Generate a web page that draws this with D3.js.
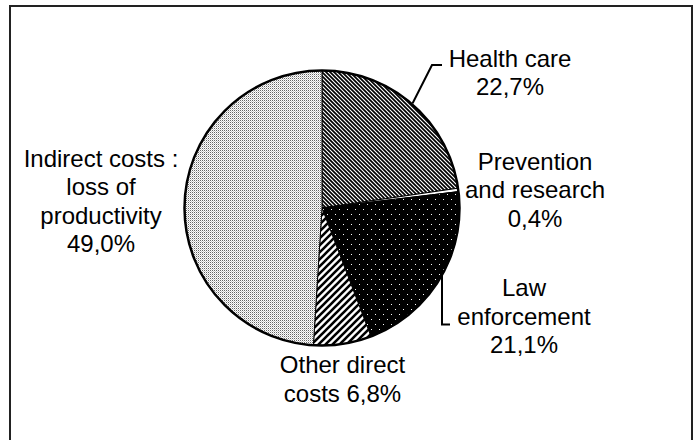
<!DOCTYPE html>
<html><head><meta charset="utf-8">
<script src="https://cdn.jsdelivr.net/npm/d3@7"></script>
<style>html,body{margin:0;padding:0;background:#fff;}svg{display:block;}</style>
</head><body>
<svg id="chart" width="694" height="440"></svg>
<script>
// ---- data ----
const categories = ["Health care", "Prevention and research", "Law enforcement", "Other direct costs", "Indirect costs : loss of productivity"];
const values = [22.7, 0.4, 21.1, 6.8, 49.0];
const labelLines = [
  ["Health care", "22,7%"],
  ["Prevention", "and research", "0,4%"],
  ["Law", "enforcement", "21,1%"],
  ["Other direct", "costs 6,8%"],
  ["Indirect costs :", "loss of", "productivity", "49,0%"]
];

// ---- layout ----
const W = 694, H = 440;
const cx = 322, cy = 208, R = 137.5;
const fontSize = 24, lineH = 28.5;
// label anchor (center x, first baseline y) as offsets from pie centre
const labelPos = [
  {dx: 188, dy: -141.5},
  {dx: 213, dy: -38.5},
  {dx: 202, dy: 88},
  {dx: 20.5, dy: 165},
  {dx: -221, dy: -41.5}
];

const svg = d3.select("#chart");
const defs = svg.append("defs");

// patterns
const pInd = defs.append("pattern").attr("id", "pInd").attr("patternUnits", "userSpaceOnUse").attr("width", 2).attr("height", 2);
pInd.append("rect").attr("width", 2).attr("height", 2).attr("fill", "#ffffff");
pInd.append("rect").attr("width", 1).attr("height", 1).attr("fill", "#666");
pInd.append("rect").attr("x", 1).attr("y", 1).attr("width", 1).attr("height", 1).attr("fill", "#c8c8c8");

const pHc = defs.append("pattern").attr("id", "pHc").attr("patternUnits", "userSpaceOnUse").attr("width", 4).attr("height", 4);
pHc.append("rect").attr("width", 4).attr("height", 4).attr("fill", "#fff");
pHc.append("path").attr("d", "M-1,-1 L5,5 M-1,3 L1,5 M3,-1 L5,1").attr("stroke", "#000").attr("stroke-width", 1.7);

const pPr = defs.append("pattern").attr("id", "pPr").attr("patternUnits", "userSpaceOnUse").attr("width", 4).attr("height", 4);
pPr.append("rect").attr("width", 4).attr("height", 4).attr("fill", "#fff");

const pLaw = defs.append("pattern").attr("id", "pLaw").attr("patternUnits", "userSpaceOnUse").attr("width", 8).attr("height", 10);
pLaw.append("rect").attr("width", 8).attr("height", 10).attr("fill", "#000");
pLaw.append("rect").attr("x", 1).attr("y", 1).attr("width", 1).attr("height", 1).attr("fill", "#fff");
pLaw.append("rect").attr("x", 5).attr("y", 6).attr("width", 1).attr("height", 1).attr("fill", "#fff");

const pOd = defs.append("pattern").attr("id", "pOd").attr("patternUnits", "userSpaceOnUse").attr("width", 7).attr("height", 7);
pOd.append("rect").attr("width", 7).attr("height", 7).attr("fill", "#fff");
pOd.append("path").attr("d", "M-1,8 L8,-1 M-1,1 L1,-1 M6,8 L8,6").attr("stroke", "#000").attr("stroke-width", 2.6);

const fills = ["url(#pHc)", "url(#pPr)", "url(#pLaw)", "url(#pOd)", "url(#pInd)"];

// frame
svg.append("rect").attr("x", 10).attr("y", 6).attr("width", 682).attr("height", 440)
  .attr("fill", "none").attr("stroke", "#222").attr("stroke-width", 2);

const data = categories.map((c, i) => ({cat: c, value: values[i], i}));
const pie = d3.pie().value(d => d.value).sort(null).startAngle(0).endAngle(2 * Math.PI);
const arcs = pie(data);
const arc = d3.arc().innerRadius(0).outerRadius(R);

const g = svg.append("g").attr("transform", `translate(${cx},${cy})`);
g.selectAll("path.slice").data(arcs).enter().append("path")
  .attr("class", "slice")
  .attr("d", arc)
  .attr("fill", d => fills[d.data.i])
  .attr("stroke", "#000").attr("stroke-width", 1);
g.append("circle").attr("r", R).attr("fill", "none").attr("stroke", "#000").attr("stroke-width", 2.5);

// leader lines
function edgePoint(a, rr) { const m = (a.startAngle + a.endAngle) / 2; return [rr * Math.sin(m), -rr * Math.cos(m)]; }
const hc = arcs[0], law = arcs[2];
const p0 = edgePoint(hc, R + 1);
g.append("path").attr("fill", "none").attr("stroke", "#000").attr("stroke-width", 2)
  .attr("d", d3.line()([p0, [110, labelPos[0].dy - 1.5], [120, labelPos[0].dy - 1.5]]));
const p2 = edgePoint(law, R + 1);
g.append("path").attr("fill", "none").attr("stroke", "#000").attr("stroke-width", 2)
  .attr("d", d3.line()([[120, p2[1] - 6], [120, labelPos[2].dy + lineH], [128, labelPos[2].dy + lineH]]));

// labels
labelLines.forEach((lines, i) => {
  const t = g.append("text").attr("text-anchor", "middle")
    .attr("font-family", "'Liberation Sans', Arial, sans-serif").attr("font-size", fontSize).attr("fill", "#000");
  lines.forEach((ln, k) => {
    t.append("tspan").attr("x", labelPos[i].dx).attr("y", labelPos[i].dy + k * lineH).text(ln);
  });
});
</script>
</body></html>
